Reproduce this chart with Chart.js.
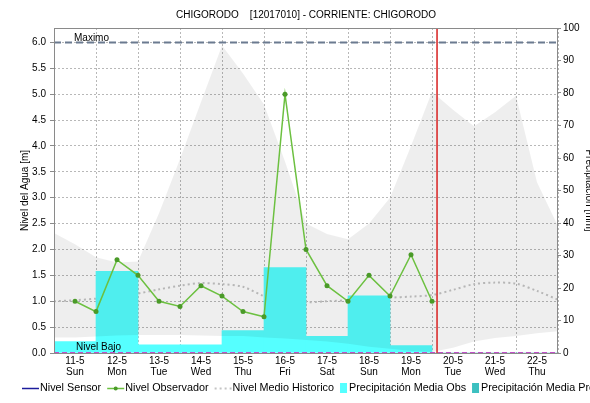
<!DOCTYPE html>
<html>
<head>
<meta charset="utf-8">
<script src="https://cdn.jsdelivr.net/npm/chart.js@4.4.0/dist/chart.umd.min.js"></script>
<style>
body{margin:0;background:#fff;}
</style>
</head>
<body>
<canvas id="myChart" width="590" height="403"></canvas>
<script>
// x values are days counted from 11-5 00:00
const dayTicks = [0.5, 1.5, 2.5, 3.5, 4.5, 5.5, 6.5, 7.5, 8.5, 9.5, 10.5, 11.5];
const dayLabels = [["11-5","Sun"],["12-5","Mon"],["13-5","Tue"],["14-5","Wed"],["15-5","Thu"],["16-5","Fri"],
                   ["17-5","Sat"],["18-5","Sun"],["19-5","Mon"],["20-5","Tue"],["21-5","Wed"],["22-5","Thu"]];
const levelTicks = [0, 0.5, 1, 1.5, 2, 2.5, 3, 3.5, 4, 4.5, 5, 5.5, 6];
const rainTicks = [0, 10, 20, 30, 40, 50, 60, 70, 80, 90, 100];

// Nivel Observador (m)
const obsTimes = [0.5, 1, 1.5, 2, 2.5, 3, 3.5, 4, 4.5, 5, 5.5, 6, 6.5, 7, 7.5, 8, 8.5, 9];
const obsLevel = [1.0, 0.8, 1.8, 1.5, 1.0, 0.9, 1.3, 1.1, 0.8, 0.7, 5.0, 2.0, 1.3, 1.0, 1.5, 1.1, 1.9, 1.0];

// historic band and mean (m)
const histTimes = [0, 0.5, 1, 1.5, 2, 2.5, 3, 3.5, 4, 4.5, 5, 5.5, 6, 6.5, 7, 7.5, 8, 8.5, 9, 9.5, 10, 10.5, 11, 11.5, 12];
const histMax = [2.32, 2.1, 1.85, 1.75, 1.77, 2.7, 3.75, 4.85, 5.94, 5.4, 4.8, 3.7, 2.5, 2.3, 2.2, 2.5, 3.0, 4.0, 5.05, 4.7, 4.38, 4.65, 4.97, 3.3, 2.45];
const histMin = [0.3, 0.3, 0.32, 0.34, 0.35, 0.35, 0.35, 0.34, 0.33, 0.33, 0.3, 0.28, 0.25, 0.22, 0.18, 0.12, 0.08, 0.04, 0.02, 0.1, 0.22, 0.29, 0.33, 0.38, 0.42];
const histMean = [1.0, 1.02, 1.05, 1.1, 1.15, 1.23, 1.3, 1.35, 1.33, 1.28, 1.1, 1.0, 0.98, 1.0, 1.02, 1.05, 1.07, 1.09, 1.12, 1.22, 1.33, 1.36, 1.34, 1.2, 1.03];

// daily precipitation (mm)
const rainDays = [0.5, 1.5, 2.5, 3.5, 4.5, 5.5, 6.5, 7.5, 8.5];
const rainObs = [3.5, 25.1, 2.5, 2.5, 6.9, 26.3, 5.1, 17.6, 2.3];
const rainProDays = [9.5, 10.5, 11.5];
const rainPro = [0, 0, 0];

const levelMax = 6.0;
const levelLow = 0.0;
const nowMark = 9.12;

function pts(xs, ys){ return xs.map(function(x, i){ return {x: x, y: ys[i]}; }); }

Chart.defaults.font.family = "'Liberation Sans', Arial, sans-serif";
Chart.defaults.color = '#000';

const legendItems = [
    {text: 'Nivel Sensor', kind: 'line', color: '#1c1c9c'},
    {text: 'Nivel Observador', kind: 'point', color: '#6cc040'},
    {text: 'Nivel Medio Historico', kind: 'dots', color: '#c4c4c4'},
    {text: 'Precipitación Media Obs', kind: 'box', color: '#55ffff'},
    {text: 'Precipitación Media Pro', kind: 'box', color: '#3cc0c0'}
];

const decor = {
    id: 'decor',
    afterDatasetsDraw: function(chart){
        const ctx = chart.ctx, a = chart.chartArea;
        const xs = chart.scales.x, ys = chart.scales.y;
        ctx.save();
        ctx.strokeStyle = '#8a8a8a';
        ctx.lineWidth = 1;
        ctx.strokeRect(a.left + 0.5, a.top + 0.5, a.right - a.left - 1, a.bottom - a.top);
        ctx.fillStyle = '#000';
        ctx.font = "10px 'Liberation Sans', Arial";
        ctx.textBaseline = 'bottom';
        ctx.fillText('Maximo', xs.getPixelForValue(0.5) - 1, ys.getPixelForValue(levelMax) + 1);
        ctx.fillText('Nivel Bajo', xs.getPixelForValue(0.5) + 1, ys.getPixelForValue(levelLow) - 1);
        ctx.restore();
    },
    afterDraw: function(chart){
        const ctx = chart.ctx, a = chart.chartArea;
        ctx.save();
        ctx.fillStyle = '#000';
        ctx.font = "10px 'Liberation Sans', Arial";
        ctx.textAlign = 'center';
        ctx.textBaseline = 'middle';
        ctx.fillText('CHIGORODO    [12017010] - CORRIENTE: CHIGORODO', (a.left + a.right) / 2, 15);
        ctx.textAlign = 'left';
        ctx.font = "10.8px 'Liberation Sans', Arial";
        let x = 22;
        const y = 388;
        legendItems.forEach(function(it){
            if (it.kind === 'box') {
                ctx.fillStyle = it.color;
                ctx.fillRect(x, y - 5, 7, 10);
                x += 9;
            } else {
                ctx.strokeStyle = it.color;
                ctx.lineWidth = it.kind === 'dots' ? 2 : 1.5;
                ctx.setLineDash(it.kind === 'dots' ? [2, 3] : []);
                ctx.beginPath();
                ctx.moveTo(x, y + 0.5);
                ctx.lineTo(x + 17, y + 0.5);
                ctx.stroke();
                ctx.setLineDash([]);
                if (it.kind === 'point') {
                    ctx.fillStyle = '#4a9a28';
                    ctx.beginPath();
                    ctx.arc(x + 8.5, y + 0.5, 2, 0, Math.PI * 2);
                    ctx.fill();
                }
                x += 18;
            }
            ctx.fillStyle = '#000';
            ctx.fillText(it.text, x, y);
            x += ctx.measureText(it.text).width + 6;
        });
        ctx.restore();
    }
};

const ctx = document.getElementById('myChart').getContext('2d');
const myChart = new Chart(ctx, {
    type: 'line',
    data: {
        datasets: [
            {
                label: 'Nivel Medio Historico',
                data: pts(histTimes, histMean),
                borderColor: '#c4c4c4',
                borderWidth: 2,
                borderDash: [2, 3],
                pointRadius: 0,
                tension: 0.3,
                order: 9
            },
            {
                type: 'bar',
                label: 'Precipitación Media Obs',
                data: pts(rainDays, rainObs),
                yAxisID: 'y1',
                backgroundColor: '#55ffff',
                borderWidth: 0,
                grouped: false,
                barPercentage: 1,
                categoryPercentage: 1,
                order: 8
            },
            {
                type: 'bar',
                label: 'Precipitación Media Pro',
                data: pts(rainProDays, rainPro),
                yAxisID: 'y1',
                backgroundColor: '#3cc0c0',
                borderWidth: 0,
                grouped: false,
                barPercentage: 1,
                categoryPercentage: 1,
                order: 8
            },
            {
                label: 'Max Historico',
                data: pts(histTimes, histMax),
                borderWidth: 0,
                pointRadius: 0,
                fill: '+1',
                backgroundColor: 'rgba(0,0,0,0.065)',
                order: 7
            },
            {
                label: 'Min Historico',
                data: pts(histTimes, histMin),
                borderWidth: 0,
                pointRadius: 0,
                fill: false,
                order: 6
            },
            {
                label: 'Maximo',
                data: [{x: 0, y: levelMax}, {x: 12, y: levelMax}],
                borderColor: '#6b7a90',
                borderWidth: 2,
                borderDash: [7, 4],
                pointRadius: 0,
                order: 3
            },
            {
                label: 'Nivel Bajo',
                data: [{x: 0, y: levelLow}, {x: 12, y: levelLow}],
                borderColor: '#c050c8',
                borderWidth: 2,
                borderDash: [5, 3],
                pointRadius: 0,
                order: 3
            },
            {
                label: 'Nivel Observador',
                data: pts(obsTimes, obsLevel),
                borderColor: '#6cc040',
                borderWidth: 1.5,
                pointRadius: 2.5,
                pointBorderWidth: 0,
                pointBackgroundColor: '#4a9a28',
                order: 2
            },
            {
                label: 'Ahora',
                data: [{x: nowMark, y: 0}, {x: nowMark, y: 6.28}],
                borderColor: '#d82020',
                borderWidth: 1.5,
                pointRadius: 0,
                order: 1
            }
        ]
    },
    options: {
        responsive: false,
        animation: false,
        layout: {padding: {top: 28, bottom: 20, left: 0, right: 0}},
        plugins: {
            legend: {display: false},
            tooltip: {enabled: false}
        },
        scales: {
            x: {
                type: 'linear',
                min: 0,
                max: 12,
                offset: false,
                afterBuildTicks: function(s){ s.ticks = dayTicks.map(function(v){ return {value: v}; }); },
                afterFit: function(s){ s.height = 30; },
                ticks: {
                    autoSkip: false,
                    maxRotation: 0,
                    padding: 3,
                    font: {size: 10, lineHeight: 1.1},
                    callback: function(v, i){ return dayLabels[i]; }
                },
                grid: {color: '#b8b8b8', drawTicks: false},
                border: {display: false, dash: [2, 2]}
            },
            y: {
                position: 'left',
                min: 0,
                max: 6.28,
                afterBuildTicks: function(s){ s.ticks = levelTicks.map(function(v){ return {value: v}; }); },
                afterFit: function(s){ s.width = 54; },
                ticks: {
                    padding: 4,
                    font: {size: 10},
                    callback: function(v){ return Number(v).toFixed(1); }
                },
                grid: {color: '#b8b8b8', tickLength: 4, tickColor: '#8a8a8a'},
                border: {display: false, dash: [2, 2]},
                title: {display: true, text: 'Nivel del Agua [m]', font: {size: 10}, padding: {top: 19, bottom: 0}}
            },
            y1: {
                position: 'right',
                min: 0,
                max: 100,
                afterBuildTicks: function(s){ s.ticks = rainTicks.map(function(v){ return {value: v}; }); },
                afterFit: function(s){ s.width = 32; },
                ticks: {padding: 2, font: {size: 10}},
                grid: {drawOnChartArea: false, tickLength: 3, tickColor: '#8a8a8a'},
                border: {display: false},
                title: {display: true, text: 'Precipitación [mm]', font: {size: 10}, padding: {top: -5, bottom: 0}}
            }
        }
    },
    plugins: [decor]
});
</script>
</body>
</html>
